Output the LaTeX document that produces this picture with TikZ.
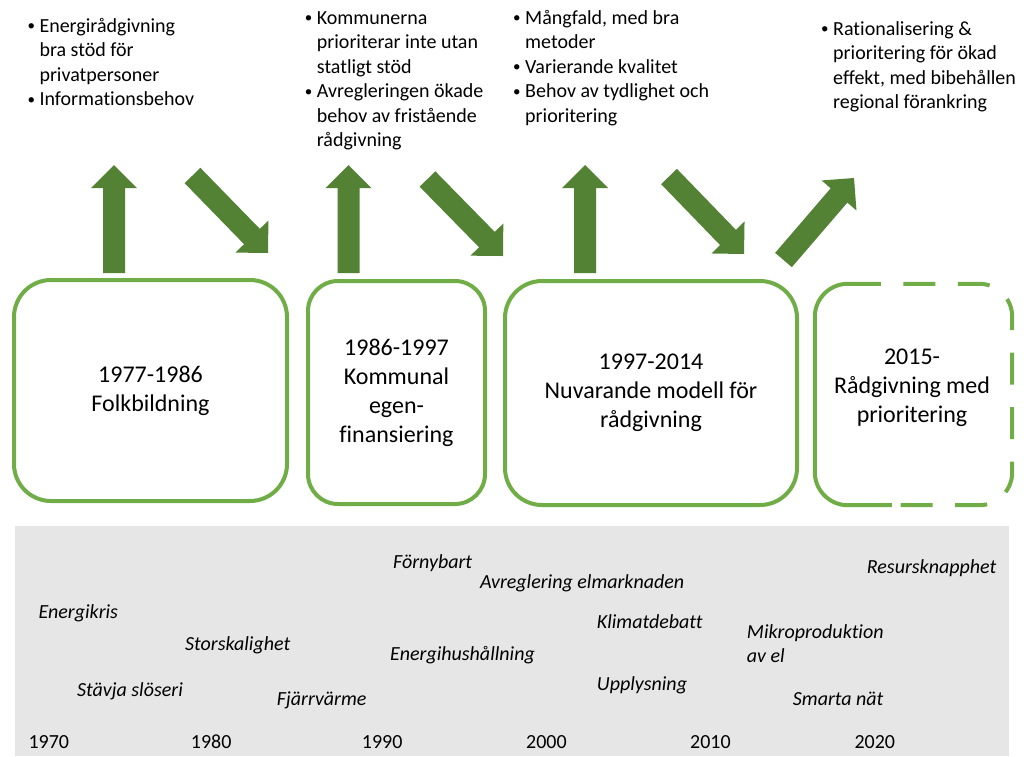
\documentclass[tikz,border=0pt]{standalone}
\usepackage{fontspec}
\setmainfont[Ligatures={NoCommon}]{Carlito}
\usetikzlibrary{calc}
\definecolor{arrowgreen}{HTML}{548235}
\definecolor{boxgreen}{HTML}{70AD47}
\definecolor{bandgrey}{HTML}{E7E6E6}
% block arrow from tail coordinate #1 to tip coordinate #2
\newcommand\blockarrow[2]{%
  \coordinate (#1h) at ($(#2)!23pt!(#1)$);
  \fill[arrowgreen]
    ($(#1)!11pt!90:(#2)$) -- ($(#1h)!11pt!90:(#2)$) -- ($(#1h)!23pt!90:(#2)$)
    -- (#2)
    -- ($(#1h)!23pt!-90:(#2)$) -- ($(#1h)!11pt!-90:(#2)$) -- ($(#1)!11pt!-90:(#2)$)
    -- cycle;
}
\newcommand\bul{\llap{\makebox[12pt][l]{\raisebox{1.5pt}{\fontsize{15}{15}\selectfont •}}}}
\begin{document}
\begin{tikzpicture}[x=1pt,y=-1pt,
  period/.style={draw=boxgreen, line width=4pt, align=center, inner sep=0pt,
    font=\fontsize{24}{29}\selectfont},
  bullets/.style={align=left, inner sep=0pt, anchor=base west,
    font=\fontsize{20}{24.5}\selectfont},
  event/.style={align=left, inner sep=0pt, anchor=base west,
    font=\fontsize{20}{24}\selectfont\itshape},
  year/.style={inner sep=0pt, anchor=base west, font=\fontsize{20}{24}\selectfont}]
\useasboundingbox (0,0) rectangle (1024,756);

% grey timeline band
\fill[bandgrey] (15,526) rectangle (1009,756);

% period boxes
\node[period, rounded corners=37pt, minimum width=273pt, minimum height=221pt]
  (b1) at (150.5,390.5) {1977-1986\\Folkbildning};
\node[period, rounded corners=30pt, minimum width=177pt, minimum height=223pt]
  (b2) at (396.5,392.5) {1986-1997\\Kommunal\\egen-\\finansiering};
\node[period, rounded corners=37pt, minimum width=292pt, minimum height=224pt]
  (b3) at (651,393) {1997-2014\\Nuvarande modell för\\rådgivning};
\node[inner sep=0pt, minimum width=197pt, minimum height=221pt] (b4) at (913.5,394.5) {};
\node[align=center, inner sep=0pt, font=\fontsize{24}{29}\selectfont]
  (t4) at (912,388) {2015-\\Rådgivning med\\prioritering};
\coordinate (b4s) at ($(b4.north west)+(66,0)$);
\coordinate (b4e) at ($(b4.south west)+(77,0)$);
\draw[boxgreen, line width=4pt, rounded corners=33pt]
  (b4s) -- (b4.north west) -- (b4.south west) -- (b4e);
\draw[boxgreen, line width=4pt, rounded corners=33pt, dash pattern=on 32pt off 22.5pt, dash phase=32pt]
  (b4s) -- (b4.north east) -- (b4.south east) -- (b4e);

% block arrows
\coordinate (u1a) at (114,273);   \coordinate (u1b) at (114,165);
\coordinate (d1a) at (192.5,175.5); \coordinate (d1b) at (268,253);
\coordinate (u2a) at (348.5,273); \coordinate (u2b) at (348.5,165);
\coordinate (d2a) at (427.5,179); \coordinate (d2b) at (503,256);
\coordinate (u3a) at (585,273);   \coordinate (u3b) at (585,165);
\coordinate (d3a) at (669,176.5); \coordinate (d3b) at (744,254);
\coordinate (d4a) at (783.5,260); \coordinate (d4b) at (854,178);
\blockarrow{u1a}{u1b}
\blockarrow{d1a}{d1b}
\blockarrow{u2a}{u2b}
\blockarrow{d2a}{d2b}
\blockarrow{u3a}{u3b}
\blockarrow{d3a}{d3b}
\blockarrow{d4a}{d4b}

% bullet texts (anchor = baseline of the last line)
\node[bullets] (c1) at (39.3,105.5) {\bul Energirådgivning\\bra stöd för\\privatpersoner\\\bul Informationsbehov};
\node[bullets] (c2) at (316.7,146.5) {\bul Kommunerna\\prioriterar inte utan\\statligt stöd\\\bul Avregleringen ökade\\behov av fristående\\rådgivning};
\node[bullets] (c3) at (525,122) {\bul Mångfald, med bra\\metoder\\\bul Varierande kvalitet\\\bul Behov av tydlighet och\\prioritering};
\node[bullets] (c4) at (833,108.5) {\bul Rationalisering \&\\prioritering för ökad\\effekt, med bibehållen\\regional förankring};

% timeline events
\node[event] (e1) at (38.3,618.3) {Energikris};
\node[event] (e2) at (185,650.5) {Storskalighet};
\node[event] (e3) at (77,696.7) {Stävja slöseri};
\node[event] (e4) at (276.7,705) {Fjärrvärme};
\node[event] (e5) at (393,568.3) {Förnybart};
\node[event] (e6) at (480,588.3) {Avreglering elmarknaden};
\node[event] (e7) at (390,660) {Energihushållning};
\node[event] (e8) at (596.7,628.3) {Klimatdebatt};
\node[event] (e9) at (596.7,690) {Upplysning};
\node[event] (e10) at (746.7,662) {Mikroproduktion\\av el};
\node[event] (e11) at (792.7,705.7) {Smarta nät};
\node[event] (e12) at (866.7,573.3) {Resursknapphet};

% years
\node[year] (y1) at (28.3,748.3) {1970};
\node[year] (y2) at (190.7,748.3) {1980};
\node[year] (y3) at (361.7,748.3) {1990};
\node[year] (y4) at (526,748.3) {2000};
\node[year] (y5) at (690,748.3) {2010};
\node[year] (y6) at (854.3,748.3) {2020};
\end{tikzpicture}
\end{document}
